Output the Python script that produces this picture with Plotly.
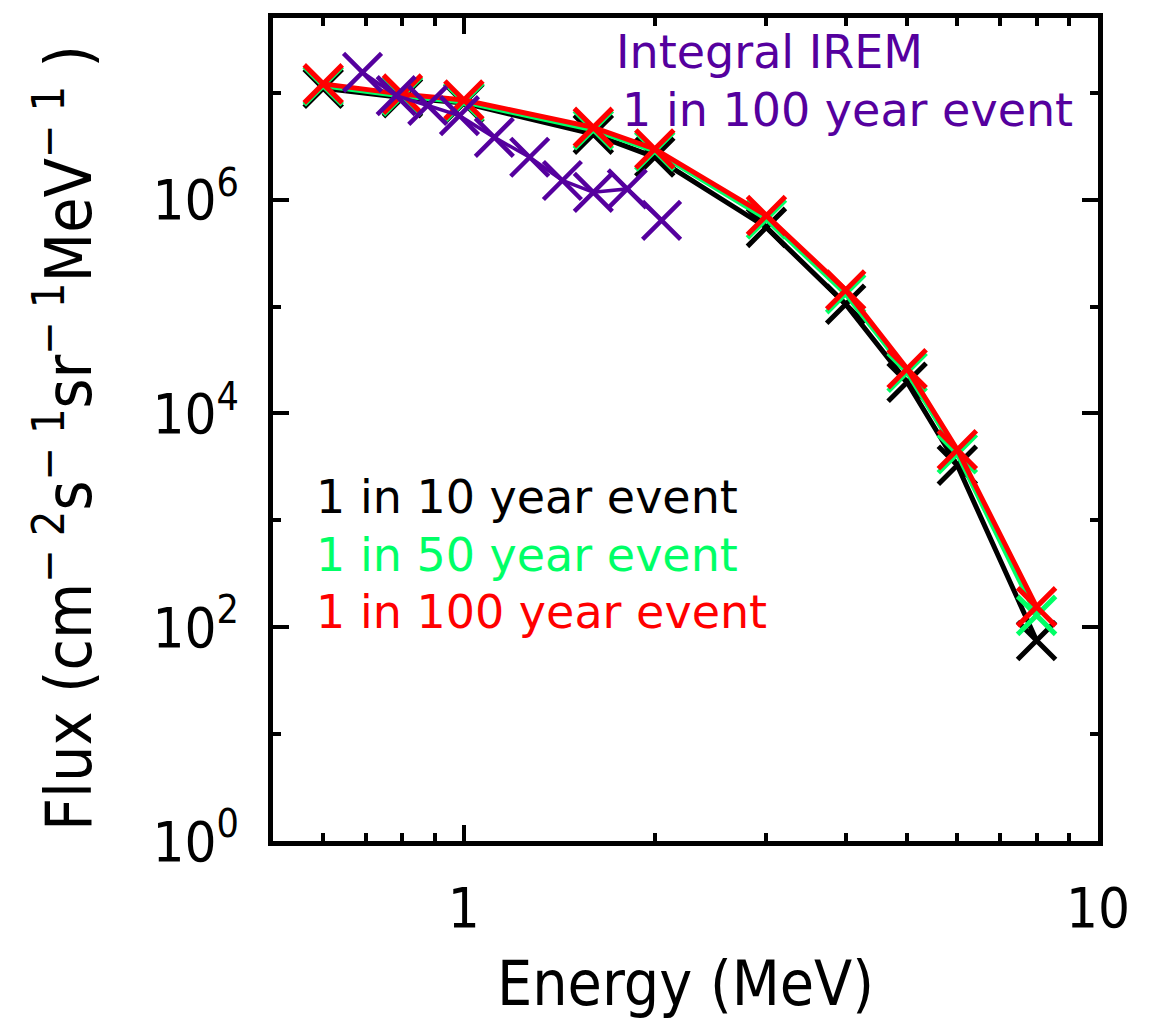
import plotly.graph_objects as go
import math

# ---- data ----
energy = [0.6, 0.8, 1.0, 1.6, 2.0, 3.0, 4.0, 5.0, 6.0, 8.0]
flux_10yr = [1.10e7, 9.0e6, 8.0e6, 4.1e6, 2.5e6, 5.5e5, 1.05e5, 1.96e4, 3.27e3, 75]
flux_50yr = [1.16e7, 9.3e6, 8.2e6, 4.5e6, 2.85e6, 6.6e5, 1.32e5, 2.43e4, 4.2e3, 129]
flux_100yr = [1.21e7, 9.7e6, 8.55e6, 4.74e6, 2.98e6, 7.1e5, 1.43e5, 2.62e4, 4.58e3, 155]

irem_energy = [0.692, 0.782, 0.877, 0.984, 1.117, 1.27, 1.43, 1.60, 1.81, 2.05]
irem_flux = [1.55e7, 9.4e6, 7.6e6, 6.1e6, 3.82e6, 2.49e6, 1.51e6, 1.17e6, 1.26e6, 6.4e5]

x_major = [1, 10]
x_major_text = ["1", "10"]
x_minor = [0.6, 0.7, 0.8, 0.9, 2, 3, 4, 5, 6, 7, 8, 9]
y_major = [1, 1e2, 1e4, 1e6]
y_major_text = ["10<sup>0</sup>", "10<sup>2</sup>", "10<sup>4</sup>", "10<sup>6</sup>"]
y_minor = [10, 1e3, 1e5, 1e7]

BLACK = "#000000"
GREEN = "#00ff66"
RED = "#ff0000"
PURPLE = "#55009e"

AXFONT = "DejaVu Sans Condensed, Liberation Sans Narrow, DejaVu Sans, sans-serif"
TXTFONT = "DejaVu Sans, Verdana, sans-serif"

fig = go.Figure()

def add_series(x, y, color, lw=5, mlw=5):
    fig.add_trace(go.Scatter(
        x=x, y=y, mode="lines+markers",
        line=dict(color=color, width=lw),
        marker=dict(symbol="x-thin", size=38, color=color,
                    line=dict(color=color, width=mlw)),
        showlegend=False, hoverinfo="x+y"))

add_series(energy, flux_10yr, BLACK)
add_series(energy, flux_50yr, GREEN)
add_series(energy, flux_100yr, RED)
add_series(irem_energy, irem_flux, PURPLE, lw=3.5, mlw=4.5)

L, R, T, B = 273, 1098, 18, 841
W, H = 1158, 1021

def px(xp, yp):
    return (xp - L) / (R - L), (B - yp) / (B - T)

annots = []
def text(xp, yp, s, color, size=46, anchor="left"):
    xx, yy = px(xp, yp)
    annots.append(dict(x=xx, y=yy, xref="paper", yref="paper", text=s,
                       showarrow=False, xanchor=anchor, yanchor="middle",
                       font=dict(family=TXTFONT, size=size, color=color)))

text(614, 52, "Integral IREM", PURPLE)
text(620, 110, "1 in 100 year event", PURPLE)
text(314, 497, "1 in 10 year event", BLACK)
text(314, 555, "1 in 50 year event", GREEN)
text(314, 612, "1 in 100 year event", RED)

# axis titles
xx, yy = px(685, 983)
annots.append(dict(x=xx, y=yy, xref="paper", yref="paper", text="Energy (MeV)",
                   showarrow=False, xanchor="center", yanchor="middle",
                   font=dict(family=AXFONT, size=62, color=BLACK)))

ytitle = "Flux (cm<sup>− 2</sup>s<sup>− 1</sup>sr<sup>− 1</sup>MeV<sup>− 1</sup> )"
xx, yy = px(64, 438)
annots.append(dict(x=xx, y=yy, xref="paper", yref="paper", textangle=-90,
                   text=ytitle,
                   showarrow=False, xanchor="center", yanchor="middle",
                   font=dict(family=AXFONT, size=64, color=BLACK)))

axis_common = dict(
    showline=True, linecolor=BLACK, linewidth=4.5, mirror="ticks",
    ticks="inside", ticklen=16, tickwidth=3.5, tickcolor=BLACK,
    showgrid=False, zeroline=False,
    tickfont=dict(family=AXFONT, size=56, color=BLACK),
)

fig.update_layout(
    width=W, height=H,
    margin=dict(l=L, r=W - R, t=T, b=H - B),
    paper_bgcolor="white", plot_bgcolor="white",
    xaxis=dict(type="log", range=[math.log10(0.5), 1.0],
               tickmode="array", tickvals=x_major, ticktext=x_major_text,
               ticklabelstandoff=14,
               minor=dict(tickmode="array", tickvals=x_minor, ticks="inside",
                          ticklen=8, tickwidth=3.5, tickcolor=BLACK),
               **axis_common),
    yaxis=dict(type="log", range=[0, math.log10(5e7)],
               tickmode="array", tickvals=y_major, ticktext=y_major_text,
               ticklabelstandoff=18,
               minor=dict(tickmode="array", tickvals=y_minor, ticks="inside",
                          ticklen=8, tickwidth=3.5, tickcolor=BLACK),
               **axis_common),
    annotations=annots,
)

fig.write_html("out.html")
